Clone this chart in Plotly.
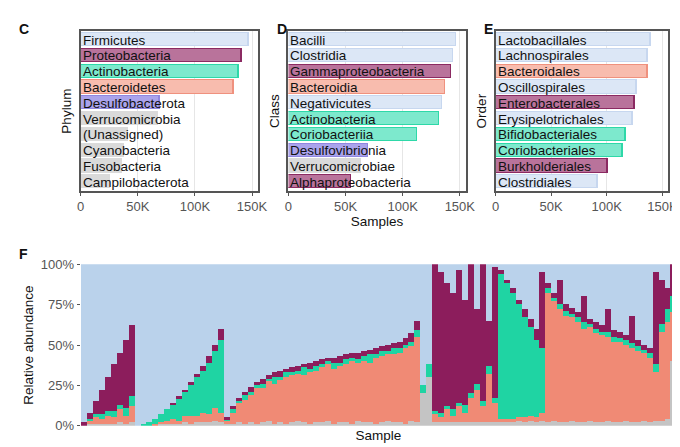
import plotly.graph_objects as go

# ---- top panels data (thousands of samples) ----
phylum = ["Firmicutes","Proteobacteria","Actinobacteria","Bacteroidetes","Desulfobacterota",
          "Verrucomicrobia","(Unassigned)","Cyanobacteria","Fusobacteria","Campilobacterota"]
phylum_vals = [147,141,138,134,69,67,41,38,36,25]
phylum_grp = ["F","P","A","B","D","O","O","O","O","O"]

klass = ["Bacilli","Clostridia","Gammaproteobacteria","Bacteroidia","Negativicutes",
         "Actinobacteria","Coriobacteriia","Desulfovibrionia","Verrucomicrobiae","Alphaproteobacteria"]
klass_vals = [147,144,143,137,135,132,113,70,64,55]
klass_grp = ["F","F","P","B","F","A","A","D","O","P"]

order = ["Lactobacillales","Lachnospirales","Bacteroidales","Oscillospirales","Enterobacterales",
         "Erysipelotrichales","Bifidobacteriales","Coriobacteriales","Burkholderiales","Clostridiales"]
order_vals = [139,137,137,127,125,123,117,114,101,92]
order_grp = ["F","F","B","F","P","F","A","A","P","F"]

# ---- bottom panel data (% per sample) ----
gray = [0,1,1,1,1,1,2,1,2,
        0,0,0,0,1,1,1,1,2,1,2,2,2,3,2,
        1,1,2,1,2,1,2,3,1,2,1,2,3,2,1,2,2,3,1,2,2,1,3,2,2,1,2,3,2,2,1,3,2,
        20,30,
        2,2,2,2,2,2,2,2,2,2,2,
        2,2,2,3,2,3,2,3,
        2,3,2,2,3,2,2,3,2,2,3,2,2,3,2,2,3,2,
        3,3,4,40]
coral = [0,2,4,3,5,4,8,5,10,
         0,0,0,1,1,2,3,2,4,5,4,6,5,8,6,
         2,7,12,15,17,22,21,25,25,26,29,29,29,29,32,32,34,35,34,35,36,39,36,38,37,41,41,41,42,43,47,46,53,
         0,0,
         5,3,8,4,10,6,15,20,10,30,12,
         2,2,2,2,3,3,3,5,
         80,74,70,66,64,62,58,58,55,54,52,50,50,47,46,44,42,40,
         30,55,60,30]
green = [0,1,2,3,3,4,3,5,6,
         0,1,2,3,5,7,9,14,15,19,24,26,32,35,45,
         1,2,1,3,2,2,3,1,4,2,3,2,2,5,2,3,2,2,4,2,3,2,2,3,5,2,3,2,4,3,2,3,4,
         5,8,
         2,3,2,4,2,5,3,4,3,5,3,
         90,84,78,70,62,55,48,40,
         3,2,3,3,2,3,4,2,3,2,3,3,2,3,3,3,2,3,
         5,5,8,10]
purple = [2,4,8,15,21,29,32,42,44,
          0,0,0,0,0,0,1,1,1,2,2,3,4,4,7,
          1,2,2,2,3,2,3,2,3,4,2,3,3,2,4,3,3,2,3,4,3,3,4,3,3,4,3,4,3,4,4,5,6,
          0,0,
          91,87,76,72,82,65,80,46,85,28,81,
          2,2,3,3,5,5,7,47,
          3,3,15,4,4,3,16,3,4,4,14,4,4,3,17,4,3,3,
          57,27,13,20]
samples = list(range(len(gray)))
firm = [100 - (a+b+c+d) for a,b,c,d in zip(gray,coral,green,purple)]

fill = {"F":"#dce7f6","P":"#b9739b","A":"#7de9cd","B":"#f8bcae","D":"#aaa3ec","O":"#dadada"}
edge = {"F":"#c7d7ef","P":"#8b2a62","A":"#2ed8a8","B":"#ef917e","D":"#8f86e0","O":"#dadada"}

FONT = "Liberation Sans, Arial, sans-serif"
fig = go.Figure()
panels = [(phylum, phylum_vals, phylum_grp, "x", "y", [0.103,0.369], "Phylum"),
          (klass, klass_vals, klass_grp, "x2", "y2", [0.415,0.681], "Class"),
          (order, order_vals, order_grp, "x3", "y3", [0.726,0.985], "Order")]
ydom = [0.593, 0.962]
for i,(cats, vals, grp, xa, ya, dom, title) in enumerate(panels):
    fig.add_trace(go.Bar(y=cats, x=vals, orientation="h", xaxis=xa, yaxis=ya, width=0.84,
                         marker=dict(color=[fill[g] for g in grp],
                                     line=dict(color=[edge[g] for g in grp], width=1.3)),
                         showlegend=False, hoverinfo="skip"))
    for c in cats:
        fig.add_annotation(x=0, y=c, xref=xa, yref=ya, text=c, showarrow=False, xanchor="left",
                           xshift=0, font=dict(size=13.5, color="#111", family=FONT))
    k = "" if i == 0 else str(i+1)
    fig.layout["xaxis"+k] = dict(domain=dom, anchor="y"+k, range=[0,155], tickvals=[0,50,100,150],
                                 ticktext=["0","50K","100K","150K"], showgrid=True, gridcolor="#e6e6e6",
                                 showline=True, linecolor="#555", linewidth=1.5, mirror=True,
                                 ticks="outside", ticklen=3, tickcolor="#555",
                                 tickfont=dict(size=13, color="#555", family=FONT), zeroline=False,
                                 title=dict(text="Samples" if i == 1 else "", font=dict(size=13.5, color="#111"), standoff=2))
    fig.layout["yaxis"+k] = dict(domain=ydom, anchor="x"+k, showticklabels=False,
                                 showline=True, linecolor="#555", linewidth=1.5, mirror=True,
                                 title=dict(text=title, font=dict(size=13.5, color="#111"), standoff=4),
                                 range=[9.55,-0.55], autorange=False)

colors_b = [("Unassigned", gray, "#c4c4c4"), ("Bacteroidetes", coral, "#f08a75"),
            ("Actinobacteria", green, "#1fd4a3"), ("Proteobacteria", purple, "#8c1d5c"),
            ("Firmicutes", firm, "#bad2eb")]
for name, vals, col in colors_b:
    fig.add_trace(go.Bar(x=samples, y=vals, xaxis="x4", yaxis="y4", marker=dict(color=col, line=dict(width=0)),
                         name=name, showlegend=False, hoverinfo="skip"))

fig.update_layout(
    xaxis4=dict(domain=[0.103,0.997], anchor="y4", range=[-0.5, len(samples)-0.5], showticklabels=False,
                showgrid=False, zeroline=False, title=dict(text="Sample", font=dict(size=13.5, color="#111"), standoff=4)),
    yaxis4=dict(domain=[0.049,0.423], anchor="x4", range=[0,100], tickvals=[0,25,50,75,100],
                ticktext=["0%","25%","50%","75%","100%"], showgrid=False, zeroline=False,
                ticks="outside", ticklen=3, tickcolor="#555",
                tickfont=dict(size=13, color="#555", family=FONT),
                title=dict(text="Relative abundance", font=dict(size=13.5, color="#111"), standoff=4)),
    barmode="stack", bargap=0, width=680, height=447,
    margin=dict(l=0, r=0, t=0, b=0), plot_bgcolor="white", paper_bgcolor="white",
    font=dict(family=FONT),
)
for txt, x, y in [("C", 0.008, 0.99), ("D", 0.395, 0.99), ("E", 0.706, 0.99), ("F", 0.008, 0.47)]:
    fig.add_annotation(text="<b>%s</b>" % txt, x=x, y=y, xref="paper", yref="paper", showarrow=False,
                       xanchor="left", yanchor="top", font=dict(size=14, color="#111", family=FONT))
fig.write_html("out.html")
